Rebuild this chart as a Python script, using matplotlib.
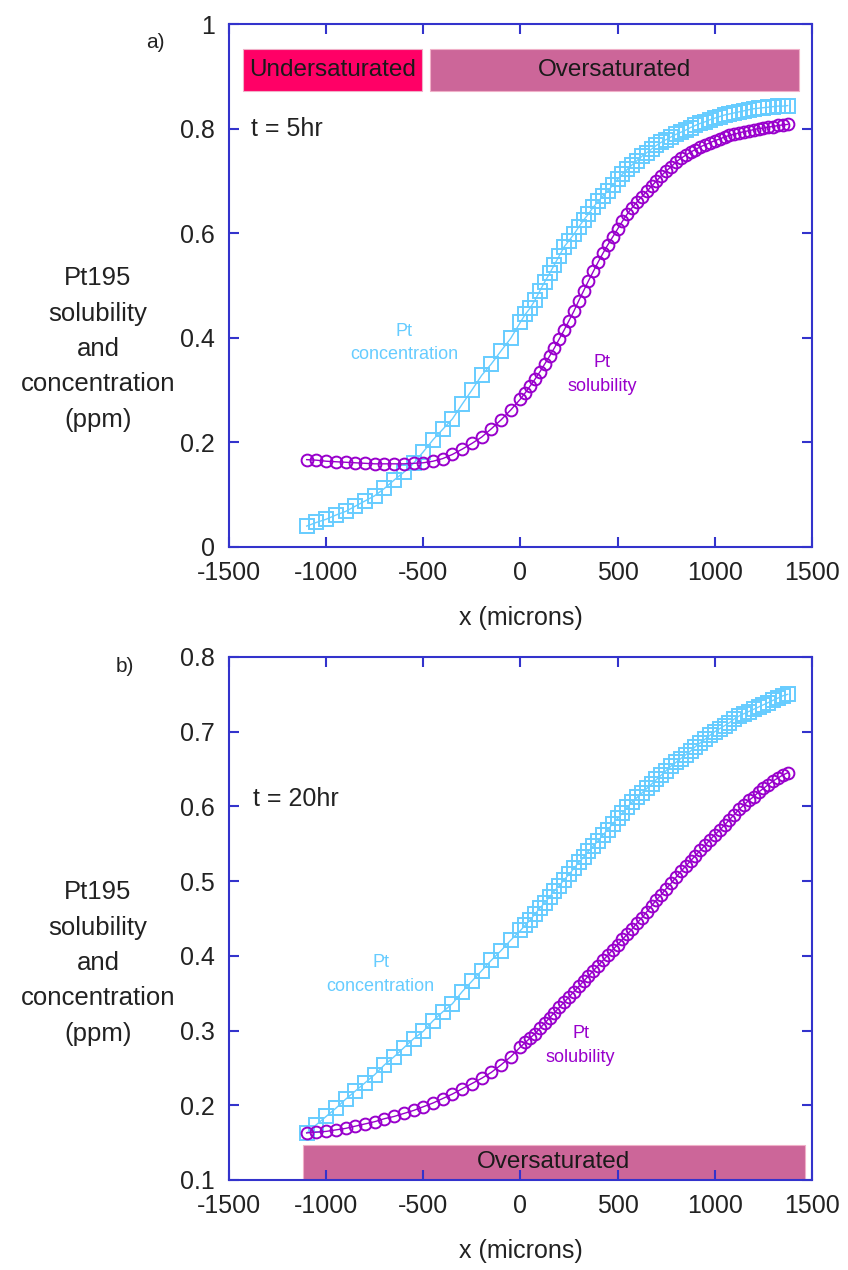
import matplotlib
matplotlib.use("Agg")
import matplotlib.pyplot as plt

plt.rcParams['font.family'] = ['Liberation Sans', 'DejaVu Sans']
plt.rcParams['axes.unicode_minus'] = False

# x positions of the model nodes (microns)
x_nodes = [-1100, -1050, -1000, -950, -900, -850, -800, -750, -700, -650, -600,
           -550, -500, -450, -400, -350, -300, -250, -200, -150, -100, -50,
           0, 25, 50, 75, 100, 125, 150, 175, 200, 225, 250, 275, 300, 325,
           350, 375, 400, 425, 450, 475, 500, 525, 550, 575, 600, 625, 650,
           675, 700, 725, 750, 775, 800, 825, 850, 875, 900, 925, 950, 975,
           1000, 1025, 1050, 1075, 1100, 1125, 1150, 1175, 1200, 1225, 1250,
           1275, 1300, 1325, 1350, 1375]

# t = 5 hr
conc_5hr = [0.040, 0.047, 0.053, 0.061, 0.068, 0.078, 0.088, 0.098, 0.112, 0.128,
            0.143, 0.160, 0.182, 0.205, 0.225, 0.245, 0.273, 0.300, 0.328, 0.350,
            0.375, 0.399,
            0.430, 0.445, 0.457, 0.472, 0.490, 0.507, 0.523, 0.540, 0.557, 0.574,
            0.586, 0.598, 0.612, 0.625, 0.637, 0.650, 0.661, 0.671, 0.681, 0.692,
            0.703, 0.713, 0.722, 0.731, 0.739, 0.747, 0.754, 0.761, 0.768, 0.774,
            0.779, 0.784, 0.789, 0.793, 0.797, 0.802, 0.806, 0.810, 0.813, 0.817,
            0.820, 0.823, 0.826, 0.828, 0.830, 0.832, 0.834, 0.836, 0.838, 0.839,
            0.840, 0.841, 0.842, 0.843, 0.843, 0.844]
sol_5hr = [0.167, 0.166, 0.164, 0.163, 0.162, 0.161, 0.160, 0.159, 0.159, 0.159,
           0.159, 0.160, 0.161, 0.164, 0.169, 0.177, 0.187, 0.198, 0.210, 0.226,
           0.243, 0.262,
           0.283, 0.295, 0.308, 0.321, 0.335, 0.350, 0.365, 0.381, 0.398, 0.415,
           0.433, 0.451, 0.471, 0.490, 0.509, 0.527, 0.545, 0.562, 0.578, 0.593,
           0.608, 0.623, 0.637, 0.649, 0.660, 0.670, 0.680, 0.690, 0.700, 0.710,
           0.719, 0.727, 0.736, 0.743, 0.749, 0.755, 0.760, 0.765, 0.769, 0.773,
           0.777, 0.780, 0.784, 0.787, 0.789, 0.792, 0.794, 0.796, 0.798, 0.800,
           0.801, 0.803, 0.804, 0.806, 0.807, 0.808]

# t = 20 hr
conc_20hr = [0.163, 0.174, 0.185, 0.196, 0.208, 0.219, 0.230, 0.241, 0.254, 0.265,
             0.277, 0.289, 0.299, 0.313, 0.325, 0.336, 0.352, 0.366, 0.380, 0.394,
             0.407, 0.421,
             0.434, 0.441, 0.448, 0.456, 0.464, 0.471, 0.479, 0.487, 0.494, 0.502,
             0.509, 0.517, 0.525, 0.532, 0.540, 0.547, 0.554, 0.562, 0.569, 0.577,
             0.584, 0.591, 0.599, 0.606, 0.612, 0.618, 0.624, 0.630, 0.636, 0.642,
             0.648, 0.654, 0.659, 0.664, 0.669, 0.674, 0.680, 0.685, 0.690, 0.695,
             0.700, 0.704, 0.708, 0.712, 0.717, 0.721, 0.724, 0.727, 0.730, 0.733,
             0.736, 0.739, 0.742, 0.745, 0.748, 0.750]
sol_20hr = [0.163, 0.164, 0.165, 0.167, 0.169, 0.172, 0.175, 0.178, 0.182, 0.185,
            0.189, 0.193, 0.198, 0.203, 0.209, 0.215, 0.222, 0.229, 0.236, 0.244,
            0.254, 0.265,
            0.278, 0.284, 0.290, 0.296, 0.303, 0.310, 0.317, 0.324, 0.331, 0.338,
            0.345, 0.352, 0.359, 0.366, 0.373, 0.380, 0.387, 0.394, 0.401, 0.408,
            0.415, 0.422, 0.429, 0.436, 0.444, 0.451, 0.459, 0.467, 0.475, 0.482,
            0.490, 0.497, 0.505, 0.513, 0.520, 0.527, 0.534, 0.541, 0.548, 0.555,
            0.562, 0.568, 0.575, 0.582, 0.589, 0.596, 0.602, 0.608, 0.613, 0.619,
            0.624, 0.629, 0.634, 0.638, 0.642, 0.645]

# saturation bands: label, x start, x end, y bottom, y top, colour
bands_5hr = [("Undersaturated", -1430, -505, 0.872, 0.952, '#ff0066'),
             ("Oversaturated", -465, 1435, 0.872, 0.952, '#cc6699')]
bands_20hr = [("Oversaturated", -1120, 1465, 0.100, 0.147, '#cc6699')]

c_conc = '#66ccff'
c_sol = '#9900cc'
c_frame = '#3333cc'
c_text = '#222222'

ylab = "Pt195\nsolubility\nand\nconcentration\n(ppm)"

fig = plt.figure(figsize=(8.48, 12.70), dpi=100)
ax1 = fig.add_axes([0.270, 0.5693, 0.6875, 0.4118])
ax2 = fig.add_axes([0.270, 0.0709, 0.6875, 0.4118])


def style(ax, ylim, yticks):
    ax.set_xlim(-1500, 1500)
    ax.set_ylim(*ylim)
    ax.set_xticks([-1500, -1000, -500, 0, 500, 1000, 1500])
    ax.set_yticks(yticks)
    for s in ax.spines.values():
        s.set_color(c_frame)
        s.set_linewidth(1.5)
    ax.tick_params(direction='in', top=True, right=True, length=7, width=1.5,
                   color=c_frame, labelsize=18, labelcolor=c_text, pad=10)
    ax.set_xlabel("x (microns)", fontsize=18, color=c_text, labelpad=15)


def draw(ax, conc, sol, bands):
    ax.plot(x_nodes, conc, '-', color=c_conc, lw=1, marker='s', ms=10,
            mfc='none', mec=c_conc, mew=1.4)
    ax.plot(x_nodes, sol, '-', color=c_sol, lw=1, marker='o', ms=8.5,
            mfc='none', mec=c_sol, mew=1.4)
    for lab, x0, x1, y0, y1, col in bands:
        ax.barh((y0 + y1) / 2, x1 - x0, left=x0, height=y1 - y0, color=col,
                edgecolor='#f0b0c8', lw=0.8)
        ax.text((x0 + x1) / 2, (y0 + y1) / 2, lab, ha='center', va='center',
                fontsize=17.5, color='#1a1a1a')


draw(ax1, conc_5hr, sol_5hr, bands_5hr)
style(ax1, (0, 1), [0, 0.2, 0.4, 0.6, 0.8, 1])
ax1.set_yticklabels(['0', '0.2', '0.4', '0.6', '0.8', '1'])
ax1.text(-1385, 0.8, "t = 5hr", fontsize=18, color=c_text, va='center')
ax1.text(-600, 0.39, "Pt\nconcentration", color=c_conc, fontsize=13,
         ha='center', va='center', linespacing=1.5)
ax1.text(420, 0.33, "Pt\nsolubility", color=c_sol, fontsize=13,
         ha='center', va='center', linespacing=1.5)

draw(ax2, conc_20hr, sol_20hr, bands_20hr)
style(ax2, (0.1, 0.8), [0.1, 0.2, 0.3, 0.4, 0.5, 0.6, 0.7, 0.8])
ax2.text(-1375, 0.61, "t = 20hr", fontsize=18, color=c_text, va='center')
ax2.text(-720, 0.375, "Pt\nconcentration", color=c_conc, fontsize=13,
         ha='center', va='center', linespacing=1.5)
ax2.text(310, 0.28, "Pt\nsolubility", color=c_sol, fontsize=13,
         ha='center', va='center', linespacing=1.5)

fig.text(98 / 848, 1 - 349 / 1270, ylab, ha='center', va='center',
         fontsize=18.5, color=c_text, linespacing=1.6)
fig.text(98 / 848, 1 - 963 / 1270, ylab, ha='center', va='center',
         fontsize=18.5, color=c_text, linespacing=1.6)
fig.text(155 / 848, 1 - 43 / 1270, "a)", ha='center', va='center',
         fontsize=15, color=c_text)
fig.text(125 / 848, 1 - 666 / 1270, "b)", ha='center', va='center',
         fontsize=15, color=c_text)

fig.savefig('out.png', dpi=100)
